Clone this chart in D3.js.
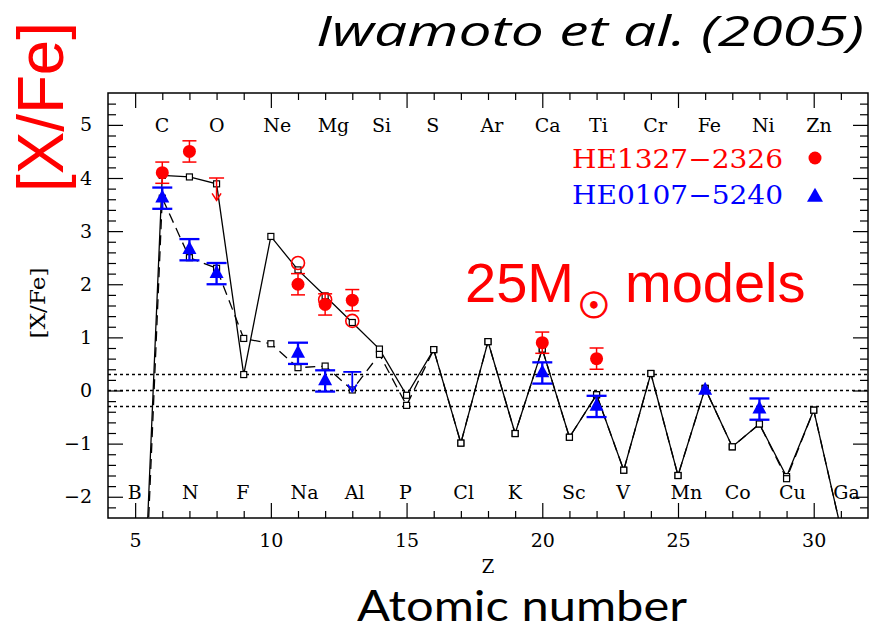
<!DOCTYPE html>
<html>
<head>
<meta charset="utf-8">
<script src="https://cdn.jsdelivr.net/npm/d3@7"></script>
<style>
  body { margin: 0; background: #fff; }
  svg { display: block; }
</style>
</head>
<body>
<svg id="chart" width="875" height="631"></svg>
<script>
// ---- Model yields, [X/Fe] versus atomic number Z ----
const modelZ = [5, 6, 7, 8, 9, 10, 11, 12, 13, 14, 15, 16, 17, 18, 19, 20, 21, 22, 23, 24, 25, 26, 27, 28, 29, 30, 31];
const modelSolid = [-8.0, 4.05, 4.02, 3.89, 0.30, 2.90, 2.27, 1.78, 1.28, 0.78, -0.09, 0.77, -0.99, 0.92, -0.81, 0.78, -0.88, -0.08, -1.50, 0.32, -1.60, 0.04, -1.06, -0.63, -1.62, -0.37, -2.6];
const modelDashed = [-8.4, 3.62, 2.50, 2.30, 0.98, 0.88, 0.43, 0.46, 0.01, 0.68, -0.28, 0.77, -0.99, 0.92, -0.81, 0.78, -0.88, -0.08, -1.50, 0.32, -1.60, 0.04, -1.06, -0.63, -1.66, -0.37, -2.6];

// ---- HE1327-2326 abundances ----
const he1327Z = [6, 7, 11, 12, 13, 20, 22];
const he1327Val = [4.1, 4.5, 2.0, 1.62, 1.7, 0.9, 0.6];
const he1327Err = [0.2, 0.2, 0.2, 0.2, 0.2, 0.2, 0.2];
const he1327AltZ = [11, 12, 13];
const he1327AltVal = [2.4, 1.71, 1.31];
const he1327LimZ = [8];
const he1327LimVal = [4.0];

// ---- HE0107-5240 abundances ----
const he0107Z = [6, 7, 8, 11, 12, 20, 22, 26, 28];
const he0107Val = [3.62, 2.65, 2.2, 0.7, 0.18, 0.33, -0.3, 0.0, -0.35];
const he0107Err = [0.2, 0.2, 0.2, 0.2, 0.2, 0.2, 0.2, 0, 0.2];
const he0107LimZ = [13];
const he0107LimVal = [0.35];

// ---- Element symbols along the top and bottom rows ----
const topZ = [6, 8, 10, 12, 14, 16, 18, 20, 22, 24, 26, 28, 30];
const topSymbols = ["C", "O", "Ne", "Mg", "Si", "S", "Ar", "Ca", "Ti", "Cr", "Fe", "Ni", "Zn"];
const bottomZ = [5, 7, 9, 11, 13, 15, 17, 19, 21, 23, 25, 27, 29, 31];
const bottomSymbols = ["B", "N", "F", "Na", "Al", "P", "Cl", "K", "Sc", "V", "Mn", "Co", "Cu", "Ga"];

// ---- Axis ticks and reference levels ----
const xMajorTicks = [5, 10, 15, 20, 25, 30];
const xMinorTicks = [6, 7, 8, 9, 11, 12, 13, 14, 16, 17, 18, 19, 21, 22, 23, 24, 26, 27, 28, 29, 31];
const yMajorTicks = [-2, -1, 0, 1, 2, 3, 4, 5];
const yMinorTicks = [-2.2, -1.8, -1.6, -1.4, -1.2, -0.8, -0.6, -0.4, -0.2, 0.2, 0.4, 0.6, 0.8, 1.2, 1.4, 1.6, 1.8, 2.2, 2.4, 2.6, 2.8, 3.2, 3.4, 3.6, 3.8, 4.2, 4.4, 4.6, 4.8, 5.2, 5.4];
const refLevels = [0.3, 0, -0.3];

const legendNames = ["HE1327\u22122326", "HE0107\u22125240"];

// ---- Layout ----
const W = 875, H = 631;
const box = { left: 108, right: 868, top: 93, bottom: 518 };
const RED = "#ff0000", BLUE = "#0000ff";
const serif = "'DejaVu Serif', serif";

const x = d3.scaleLinear().domain([4, 32]).range([box.left, box.right]);
const y = d3.scaleLinear().domain([-2.4, 5.6]).range([box.bottom, box.top]);

const svg = d3.select("#chart");
svg.append("rect").attr("width", W).attr("height", H).attr("fill", "#fff");

svg.append("defs").append("clipPath").attr("id", "plot-clip")
  .append("rect")
  .attr("x", box.left).attr("y", box.top)
  .attr("width", box.right - box.left).attr("height", box.bottom - box.top);

// ---- Axes (ticks point inward on all four sides) ----
function tidy(g) {
  g.select(".domain").remove();
  g.selectAll(".tick line").attr("stroke", "#000").attr("stroke-width", 1.2);
  g.selectAll(".tick text").attr("font-family", serif).attr("font-size", 19).attr("fill", "#000");
}
const fmt = d3.format("d");

svg.append("g").attr("transform", `translate(${box.left},0)`)
  .call(d3.axisLeft(y).tickValues(yMajorTicks).tickSize(-15).tickPadding(16).tickFormat(fmt)).call(tidy);
svg.append("g").attr("transform", `translate(${box.left},0)`)
  .call(d3.axisLeft(y).tickValues(yMinorTicks).tickSize(-8).tickFormat("")).call(tidy);
svg.append("g").attr("transform", `translate(${box.right},0)`)
  .call(d3.axisRight(y).tickValues(yMajorTicks).tickSize(-15).tickFormat("")).call(tidy);
svg.append("g").attr("transform", `translate(${box.right},0)`)
  .call(d3.axisRight(y).tickValues(yMinorTicks).tickSize(-8).tickFormat("")).call(tidy);

svg.append("g").attr("transform", `translate(0,${box.bottom})`)
  .call(d3.axisBottom(x).tickValues(xMajorTicks).tickSize(-15).tickPadding(16).tickFormat(fmt)).call(tidy);
svg.append("g").attr("transform", `translate(0,${box.bottom})`)
  .call(d3.axisBottom(x).tickValues(xMinorTicks).tickSize(-7).tickFormat("")).call(tidy);
svg.append("g").attr("transform", `translate(0,${box.top})`)
  .call(d3.axisTop(x).tickValues(xMajorTicks).tickSize(-15).tickFormat("")).call(tidy);
svg.append("g").attr("transform", `translate(0,${box.top})`)
  .call(d3.axisTop(x).tickValues(xMinorTicks).tickSize(-7).tickFormat("")).call(tidy);

svg.append("rect")
  .attr("x", box.left).attr("y", box.top)
  .attr("width", box.right - box.left).attr("height", box.bottom - box.top)
  .attr("fill", "none").attr("stroke", "#000").attr("stroke-width", 1.5);

// ---- Element symbols ----
svg.append("g").selectAll("text").data(topZ).join("text")
  .attr("x", d => x(d) - 7.5).attr("y", 132)
  .attr("font-family", serif).attr("font-size", 19)
  .text((d, i) => topSymbols[i]);
svg.append("g").selectAll("text").data(bottomZ).join("text")
  .attr("x", d => x(d) - 7.5).attr("y", 499)
  .attr("font-family", serif).attr("font-size", 19)
  .text((d, i) => bottomSymbols[i]);

// ---- Plot body ----
const plot = svg.append("g").attr("clip-path", "url(#plot-clip)");

// reference levels at 0 and +/-0.3 dex
plot.selectAll("line.ref").data(refLevels).join("line")
  .attr("class", "ref")
  .attr("x1", box.left).attr("x2", box.right)
  .attr("y1", d => y(d)).attr("y2", d => y(d))
  .attr("stroke", "#000").attr("stroke-width", 1.4).attr("stroke-dasharray", "3,3");

const lineGen = d3.line().x(d => x(d[0])).y(d => y(d[1]));
const solidPts = modelZ.map((z, i) => [z, modelSolid[i]]);
const dashedPts = modelZ.map((z, i) => [z, modelDashed[i]]);

plot.append("path").datum(solidPts).attr("d", lineGen)
  .attr("fill", "none").attr("stroke", "#000").attr("stroke-width", 1.3);
plot.append("path").datum(dashedPts).attr("d", lineGen)
  .attr("fill", "none").attr("stroke", "#000").attr("stroke-width", 1.3)
  .attr("stroke-dasharray", "10,6");

const inDomain = d => d[0] > 4 && d[0] < 32 && d[1] > -2.4 && d[1] < 5.6;
const sq = 6;
plot.selectAll("rect.m1").data(solidPts.filter(inDomain).concat(dashedPts.filter(inDomain))).join("rect")
  .attr("x", d => x(d[0]) - sq / 2).attr("y", d => y(d[1]) - sq / 2)
  .attr("width", sq).attr("height", sq)
  .attr("fill", "#fff").attr("stroke", "#000").attr("stroke-width", 1.2);

// ---- Observations ----
function errorBars(g, zs, vals, errs, color, capW, sw) {
  zs.forEach((z, i) => {
    const e = errs[i];
    if (!e) return;
    const cx = x(z), y1 = y(vals[i] + e), y2 = y(vals[i] - e);
    g.append("line").attr("x1", cx).attr("x2", cx).attr("y1", y1).attr("y2", y2)
      .attr("stroke", color).attr("stroke-width", sw);
    [y1, y2].forEach(yy => g.append("line")
      .attr("x1", cx - capW / 2).attr("x2", cx + capW / 2).attr("y1", yy).attr("y2", yy)
      .attr("stroke", color).attr("stroke-width", sw));
  });
}
function upperLimits(g, zs, vals, color, capW, sw, drop) {
  zs.forEach((z, i) => {
    const cx = x(z), yt = y(vals[i]), yb = y(vals[i] - drop);
    g.append("line").attr("x1", cx - capW / 2).attr("x2", cx + capW / 2).attr("y1", yt).attr("y2", yt)
      .attr("stroke", color).attr("stroke-width", sw);
    g.append("line").attr("x1", cx).attr("x2", cx).attr("y1", yt).attr("y2", yb)
      .attr("stroke", color).attr("stroke-width", sw);
    g.append("path").attr("d", `M${cx - 4.5},${yb - 7}L${cx},${yb}L${cx + 4.5},${yb - 7}`)
      .attr("fill", "none").attr("stroke", color).attr("stroke-width", sw);
  });
}
const triPath = (w, h) => `M0,${-h * 2 / 3}L${w / 2},${h / 3}L${-w / 2},${h / 3}Z`;

const obs = svg.append("g");

// HE1327-2326: red circles
errorBars(obs, he1327Z, he1327Val, he1327Err, RED, 14, 1.5);
upperLimits(obs, he1327LimZ, he1327LimVal, RED, 15, 1.5, 0.42);
obs.selectAll("circle.alt").data(he1327AltZ).join("circle")
  .attr("class", "alt")
  .attr("cx", d => x(d)).attr("cy", (d, i) => y(he1327AltVal[i])).attr("r", 6.5)
  .attr("fill", "none").attr("stroke", RED).attr("stroke-width", 1.6);
obs.selectAll("circle.main").data(he1327Z).join("circle")
  .attr("class", "main")
  .attr("cx", d => x(d)).attr("cy", (d, i) => y(he1327Val[i])).attr("r", 6.5)
  .attr("fill", RED);

// HE0107-5240: blue triangles
errorBars(obs, he0107Z, he0107Val, he0107Err, BLUE, 20, 2.3);
upperLimits(obs, he0107LimZ, he0107LimVal, BLUE, 18, 1.8, 0.37);
obs.selectAll("path.tri").data(he0107Z).join("path")
  .attr("class", "tri")
  .attr("transform", (d, i) => `translate(${x(d)},${y(he0107Val[i])})`)
  .attr("d", triPath(14, 13))
  .attr("fill", BLUE);

// ---- Legend ----
const legend = svg.append("g");
legend.selectAll("text").data(legendNames).join("text")
  .attr("x", 572).attr("y", (d, i) => 168 + i * 36)
  .attr("font-family", serif).attr("font-size", 26)
  .attr("textLength", 211).attr("lengthAdjust", "spacingAndGlyphs")
  .attr("fill", (d, i) => i === 0 ? RED : BLUE)
  .text(d => d);
legend.append("circle").attr("cx", 815).attr("cy", 158).attr("r", 6.5).attr("fill", RED);
legend.append("path").attr("transform", "translate(815,197)").attr("d", triPath(16, 14)).attr("fill", BLUE);

// ---- Axis titles ----
svg.append("text").attr("x", x(18)).attr("y", 573)
  .attr("text-anchor", "middle").attr("font-family", serif).attr("font-size", 18)
  .text("Z");
svg.append("text").attr("transform", "translate(45,303) rotate(-90)")
  .attr("text-anchor", "middle").attr("font-family", serif).attr("font-size", 20)
  .attr("textLength", 71).attr("lengthAdjust", "spacingAndGlyphs")
  .text("[X/Fe]");

// ---- Annotations ----
svg.append("text").attr("x", 316).attr("y", 46)
  .attr("font-family", "'Open Sans', sans-serif").attr("font-style", "italic").attr("font-size", 42)
  .attr("textLength", 548).attr("lengthAdjust", "spacingAndGlyphs")
  .text("Iwamoto et al. (2005)");

svg.append("text").attr("transform", "translate(63,107) rotate(-90)")
  .attr("text-anchor", "middle").attr("font-family", "'Liberation Sans', Arial, sans-serif").attr("font-size", 64)
  .attr("fill", RED)
  .attr("textLength", 170).attr("lengthAdjust", "spacingAndGlyphs")
  .text("[X/Fe]");

const models = svg.append("text").attr("y", 302)
  .attr("font-family", "'Liberation Sans', Arial, sans-serif").attr("font-size", 56).attr("fill", RED);
models.append("tspan").attr("x", 465).text("25M");
models.append("tspan").attr("x", 594).attr("y", 318).attr("text-anchor", "middle")
  .attr("font-family", "'DejaVu Sans', sans-serif").attr("font-size", 36)
  .attr("stroke", RED).attr("stroke-width", 1).text("\u2609");
models.append("tspan").attr("x", 625).attr("y", 302).attr("stroke", "none").text("models");

svg.append("text").attr("x", 357).attr("y", 621)
  .attr("font-family", "Lato, sans-serif").attr("font-size", 43)
  .attr("textLength", 330).attr("lengthAdjust", "spacingAndGlyphs")
  .text("Atomic number");
</script>
</body>
</html>
